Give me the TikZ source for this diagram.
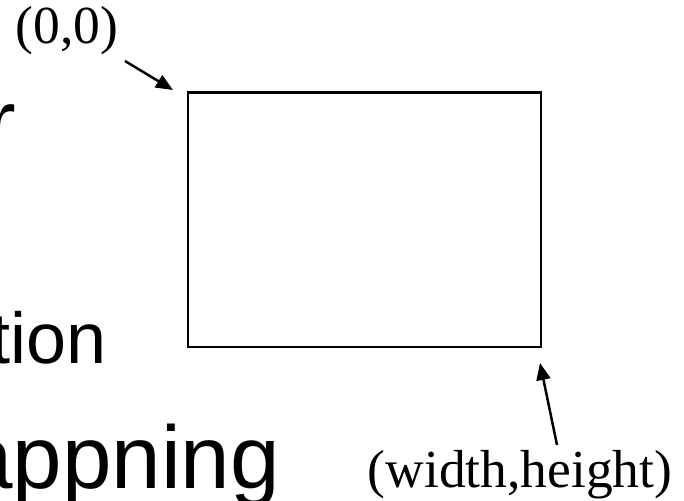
\documentclass[tikz,border=0pt]{standalone}
\usepackage{fontspec}
\setmainfont{Liberation Serif}
\setsansfont{Liberation Sans}
\usetikzlibrary{arrows.meta, positioning}

\begin{document}
\begin{tikzpicture}[
		x=1pt, y=-1pt,
		every node/.style={inner sep=0pt, outer sep=0pt},
		slide/.style={font=\sffamily\fontsize{89}{100}\selectfont, anchor=base east},
		coord/.style={font=\fontsize{53.5}{60}\selectfont, anchor=base},
		pointer/.style={-{Triangle[length=17pt, width=14pt]}, line width=2.5pt}
		]
		\clip (0,0) rectangle (684,500);
		\node (R) [slide] at (16,152) {r};
		\node (T) [slide, font=\sffamily\fontsize{72}{80}\selectfont] at (107,363) {tion};
		\node (A) [slide] at (280,488) {appning};
		\node (B) [draw, line width=2.4pt, minimum width=353pt, minimum height=254.5pt] at (364.5,219.75) {};
		\node (O) [coord] at (67,44) {(0,0)};
		\node (W) [coord] at (520,487.5) {(width,height)};
		\coordinate (o) at (125,61);
		\coordinate (w) at (557,445);
		\draw[pointer] (o) -- ([shift={(-15,-2.5)}]B.north west);
		\draw[pointer] (w) -- ([shift={(-1,16)}]B.south east);
	\end{tikzpicture}
\end{document}
